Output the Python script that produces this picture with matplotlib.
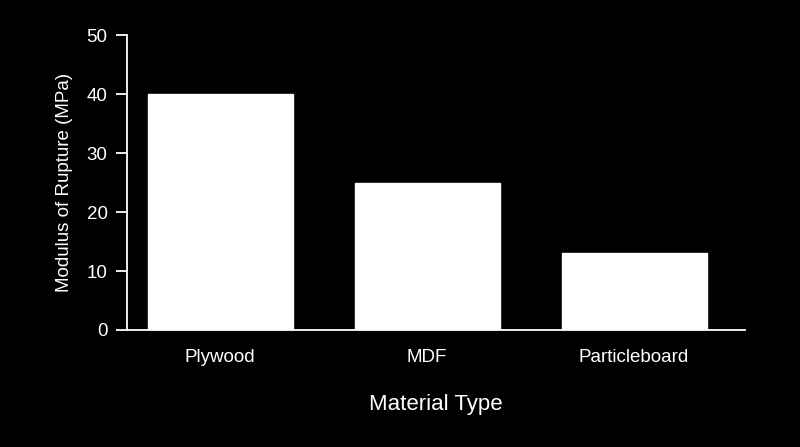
import matplotlib
matplotlib.use("Agg")
import matplotlib.pyplot as plt

categories = ["Plywood", "MDF", "Particleboard"]
values = [40, 25, 13]
yticks = [0, 10, 20, 30, 40, 50]

plt.rcParams['font.family'] = ['Liberation Sans', 'DejaVu Sans']
fig = plt.figure(figsize=(8, 4.47), dpi=100, facecolor='black')
ax = fig.add_axes([127/800, 1-330/447, (745-127)/800, (330-35)/447])
ax.set_facecolor('black')
x = range(len(categories))
ax.bar(x, values, width=0.7, color='white', edgecolor='white')
ax.set_xlim(-0.45, 2.536)
ax.set_ylim(0, 50)
ax.set_yticks(yticks)
ax.set_xticks(list(x))
ax.set_xticklabels(categories)
for s in ['top', 'right']:
    ax.spines[s].set_visible(False)
for s in ['left', 'bottom']:
    ax.spines[s].set_color('white')
    ax.spines[s].set_linewidth(1.3)
ax.tick_params(axis='y', colors='white', labelsize=13.5, length=8, width=1.3, pad=6)
ax.tick_params(axis='x', colors='white', labelsize=13.5, length=0, pad=14)
ax.set_ylabel("Modulus of Rupture (MPa)", color='white', fontsize=13.5, labelpad=10)
ax.set_xlabel("Material Type", color='white', fontsize=16, labelpad=20)
fig.savefig("out.png", dpi=100, facecolor='black')
